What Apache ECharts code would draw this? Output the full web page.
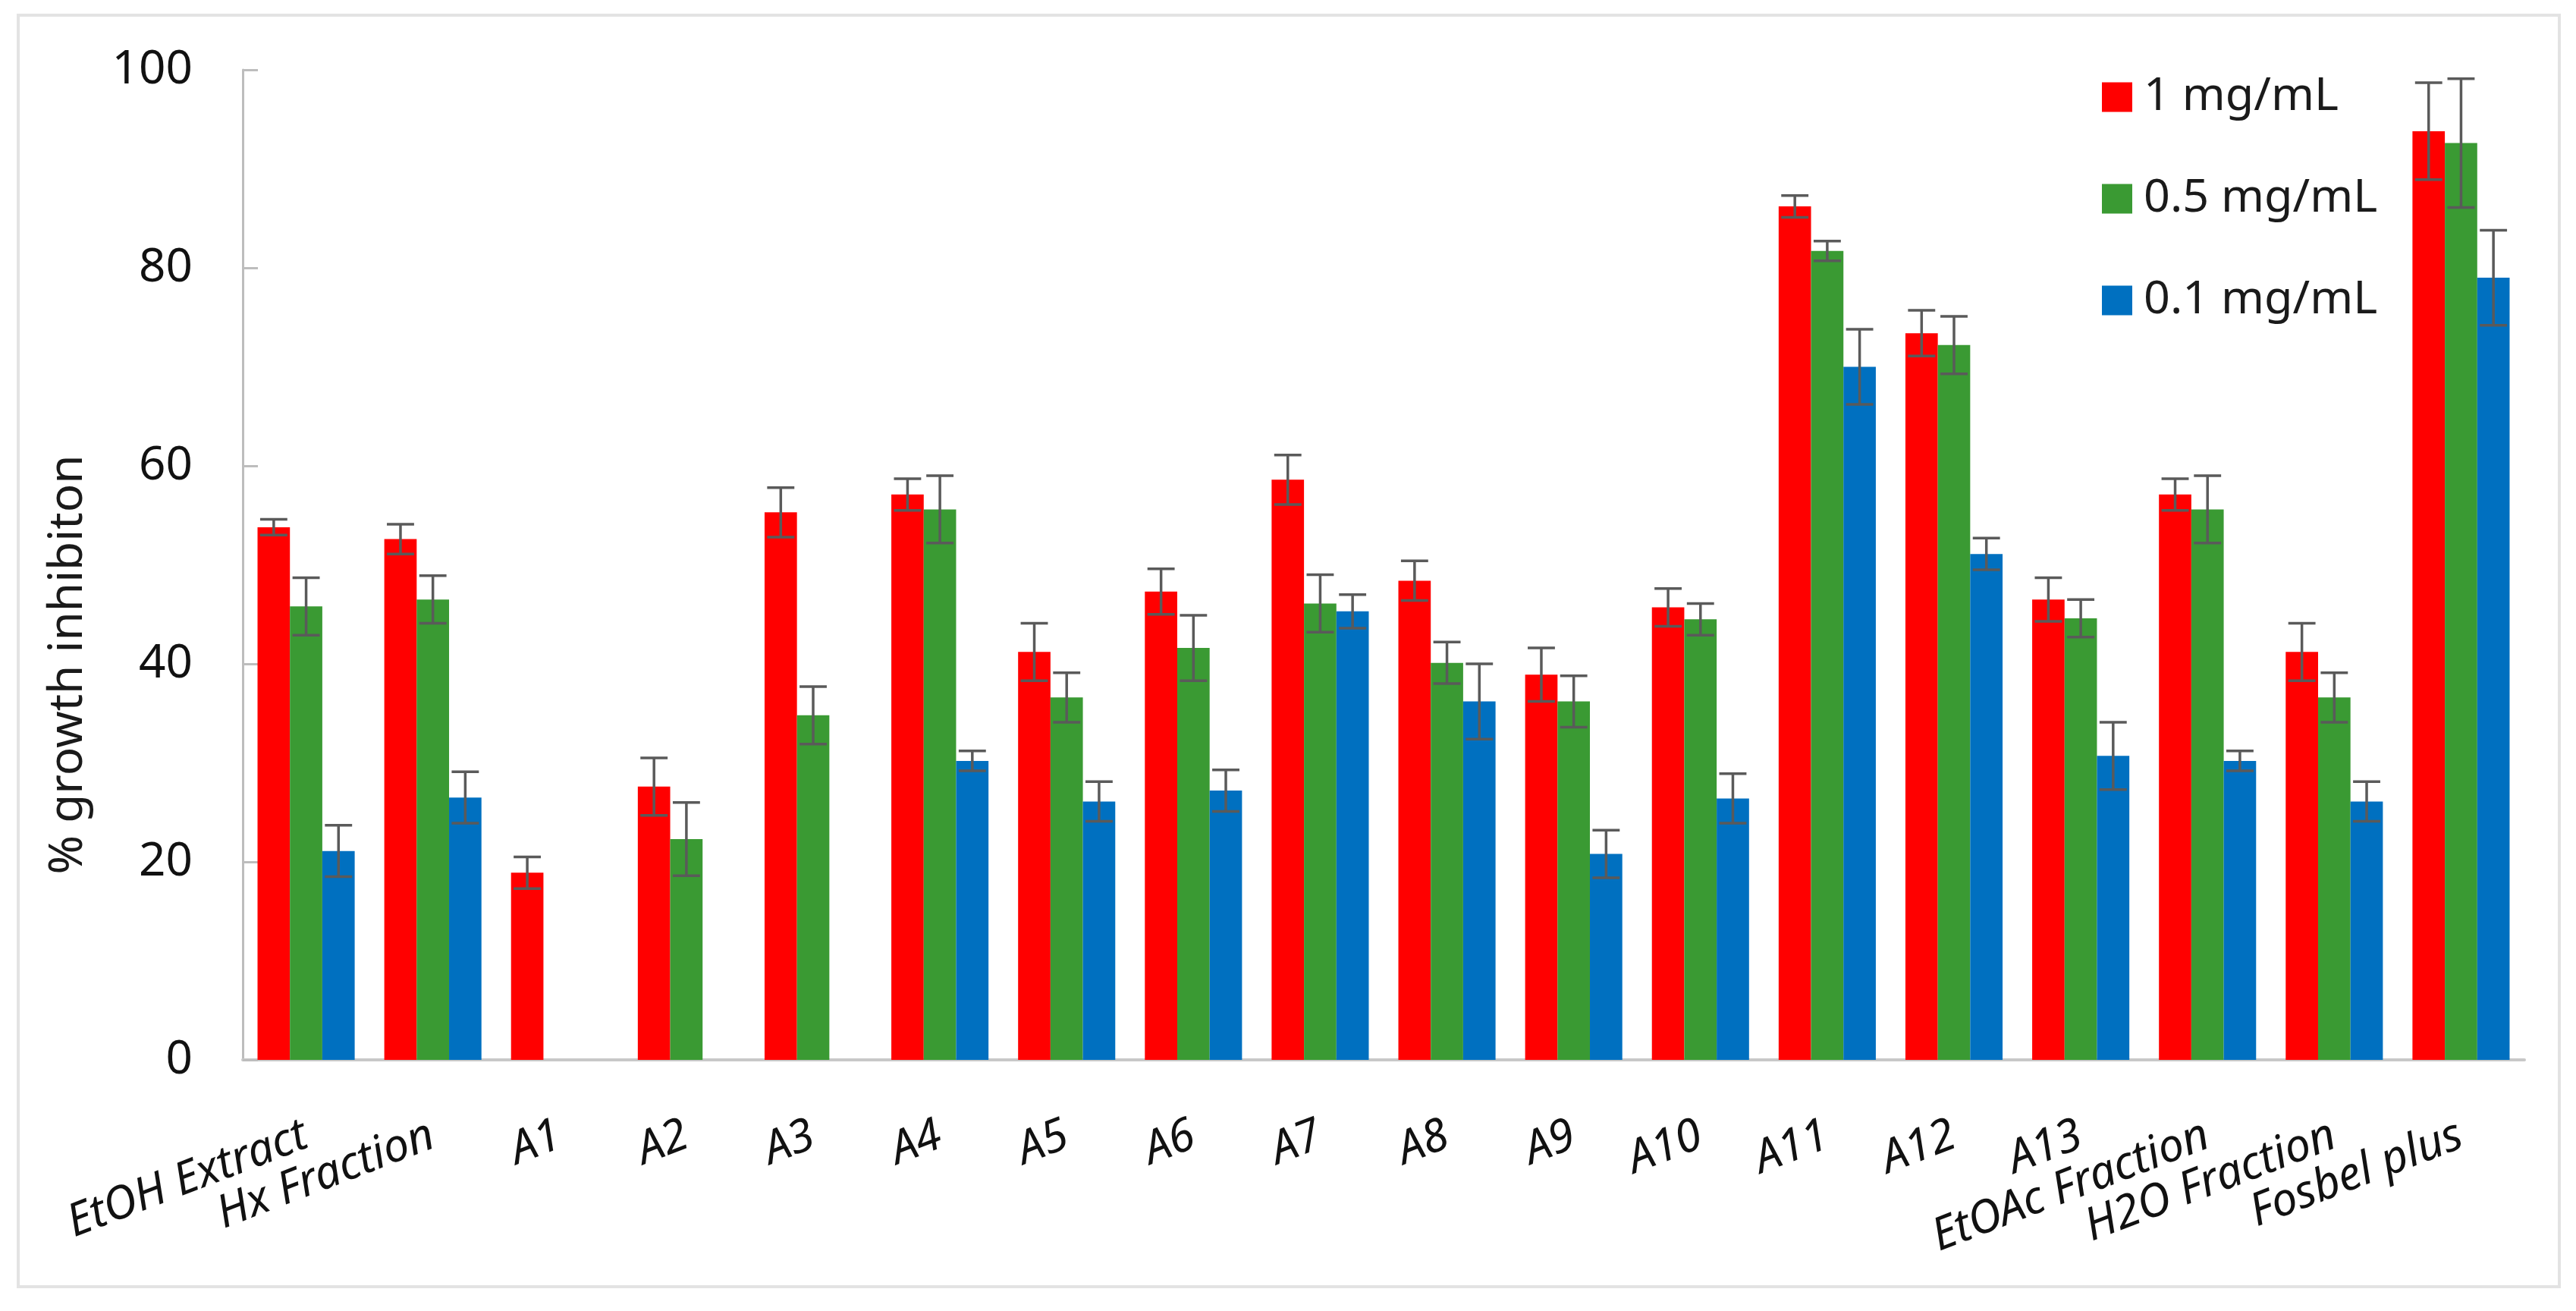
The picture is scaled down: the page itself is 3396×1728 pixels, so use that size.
<!DOCTYPE html>
<html>
<head>
<meta charset="utf-8">
<script src="https://cdn.jsdelivr.net/npm/echarts@6/dist/echarts.min.js"></script>
<style>
  html, body { margin: 0; padding: 0; background: #fff; }
  #chart { position: absolute; left: 0; top: 0; width: 3396px; height: 1728px; }
  #frame { position: absolute; left: 22px; top: 18px; width: 3346px; height: 1672px; border: 4px solid #e3e3e3; pointer-events: none; }
</style>
</head>
<body>
<div id="chart"></div>
<div id="frame"></div>
<script>
const categories = ['EtOH Extract', 'Hx Fraction', 'A1', 'A2', 'A3', 'A4', 'A5', 'A6', 'A7', 'A8', 'A9', 'A10', 'A11', 'A12', 'A13', 'EtOAc Fraction', 'H2O Fraction', 'Fosbel plus'];
const seriesNames = ['1 mg/mL', '0.5 mg/mL', '0.1 mg/mL'];
const values1mg = [53.8, 52.6, 18.9, 27.6, 55.3, 57.1, 41.2, 47.3, 58.6, 48.4, 38.9, 45.7, 86.2, 73.4, 46.5, 57.1, 41.2, 93.8];
const errors1mg = [0.8, 1.5, 1.6, 2.9, 2.5, 1.6, 2.9, 2.3, 2.5, 2.0, 2.7, 1.9, 1.1, 2.3, 2.2, 1.6, 2.9, 4.9];
const values05mg = [45.8, 46.5, null, 22.3, 34.8, 55.6, 36.6, 41.6, 46.1, 40.1, 36.2, 44.5, 81.7, 72.2, 44.6, 55.6, 36.6, 92.6];
const errors05mg = [2.9, 2.4, null, 3.7, 2.9, 3.4, 2.5, 3.3, 2.9, 2.1, 2.6, 1.6, 1.0, 2.9, 1.9, 3.4, 2.5, 6.5];
const values01mg = [21.1, 26.5, null, null, null, 30.2, 26.1, 27.2, 45.3, 36.2, 20.8, 26.4, 70.0, 51.1, 30.7, 30.2, 26.1, 79.0];
const errors01mg = [2.6, 2.6, null, null, null, 1.0, 2.0, 2.1, 1.7, 3.8, 2.4, 2.5, 3.8, 1.6, 3.4, 1.0, 2.0, 4.8];
const yTicks = [0, 20, 40, 60, 80, 100];
const yTitle = '% growth inhibiton';

const colors = ['#FF0000', '#3A9A33', '#0070C0'];
const FONT = '"Noto Sans", "Liberation Sans", sans-serif';
const BAR_FRAC = 0.2555;

const allValues = [values1mg, values05mg, values01mg];
const allErrors = [errors1mg, errors05mg, errors01mg];

function errorSeries(k) {
  const data = [];
  allValues[k].forEach((v, i) => {
    if (v !== null && allErrors[k][i] !== null) data.push([i, v, allErrors[k][i]]);
  });
  return {
    type: 'custom',
    name: seriesNames[k],
    z: 10,
    silent: true,
    encode: { x: 0, y: 1 },
    data: data,
    renderItem: function (params, api) {
      const idx = api.value(0), v = api.value(1), e = api.value(2);
      const top = api.coord([idx, v + e]);
      const bot = api.coord([idx, v - e]);
      const bw = api.size([1, 0])[0] * BAR_FRAC;
      const x = top[0] + (k - 1) * bw;
      const half = bw * 0.42;
      const st = { stroke: '#5a5a5a', lineWidth: 3.5 };
      return {
        type: 'group',
        children: [
          { type: 'line', shape: { x1: x, y1: top[1], x2: x, y2: bot[1] }, style: st },
          { type: 'line', shape: { x1: x - half, y1: top[1], x2: x + half, y2: top[1] }, style: st },
          { type: 'line', shape: { x1: x - half, y1: bot[1], x2: x + half, y2: bot[1] }, style: st }
        ]
      };
    }
  };
}

const chart = echarts.init(document.getElementById('chart'));
const barSeries = allValues.map((vals, k) => ({
  type: 'bar',
  name: seriesNames[k],
  data: vals,
  barWidth: (BAR_FRAC * 100) + '%',
  barGap: '0%',
  itemStyle: { color: colors[k] },
  z: 2
}));

chart.setOption({
  animation: false,
  color: colors,
  grid: { left: 320, right: 68, top: 92, bottom: 331, containLabel: false },
  legend: {
    data: seriesNames,
    orient: 'vertical',
    left: 2766,
    top: 92,
    icon: 'rect',
    itemWidth: 40,
    itemHeight: 39,
    itemGap: 72,
    textStyle: { fontFamily: FONT, fontSize: 61, color: '#1a1a1a', lineHeight: 62, padding: [0, 0, 0, 10] }
  },
  xAxis: {
    type: 'category',
    data: categories,
    axisLine: { show: true, lineStyle: { color: '#c8c8c8', width: 4 } },
    axisTick: { show: false },
    axisLabel: {
      interval: 0,
      rotate: 21,
      margin: 98,
      fontFamily: FONT,
      fontStyle: 'italic',
      fontSize: 60,
      color: '#111'
    }
  },
  yAxis: {
    type: 'value',
    min: 0,
    max: 100,
    interval: 20,
    splitLine: { show: false },
    axisLine: { show: true, lineStyle: { color: '#bdbdbd', width: 3 } },
    axisTick: { show: true, inside: true, length: 20, lineStyle: { color: '#bdbdbd', width: 3 } },
    axisLabel: {
      margin: 66,
      fontFamily: FONT,
      fontSize: 62,
      color: '#111',
      formatter: function (v) { return yTicks.indexOf(v) >= 0 ? String(v) : ''; }
    }
  },
  graphic: [{
    type: 'text',
    x: 90,
    y: 876,
    rotation: Math.PI / 2,
    style: {
      text: yTitle,
      fontFamily: FONT,
      fontSize: 62,
      fill: '#1a1a1a',
      align: 'center',
      verticalAlign: 'middle'
    }
  }],
  series: barSeries.concat([errorSeries(0), errorSeries(1), errorSeries(2)])
});
</script>
</body>
</html>
